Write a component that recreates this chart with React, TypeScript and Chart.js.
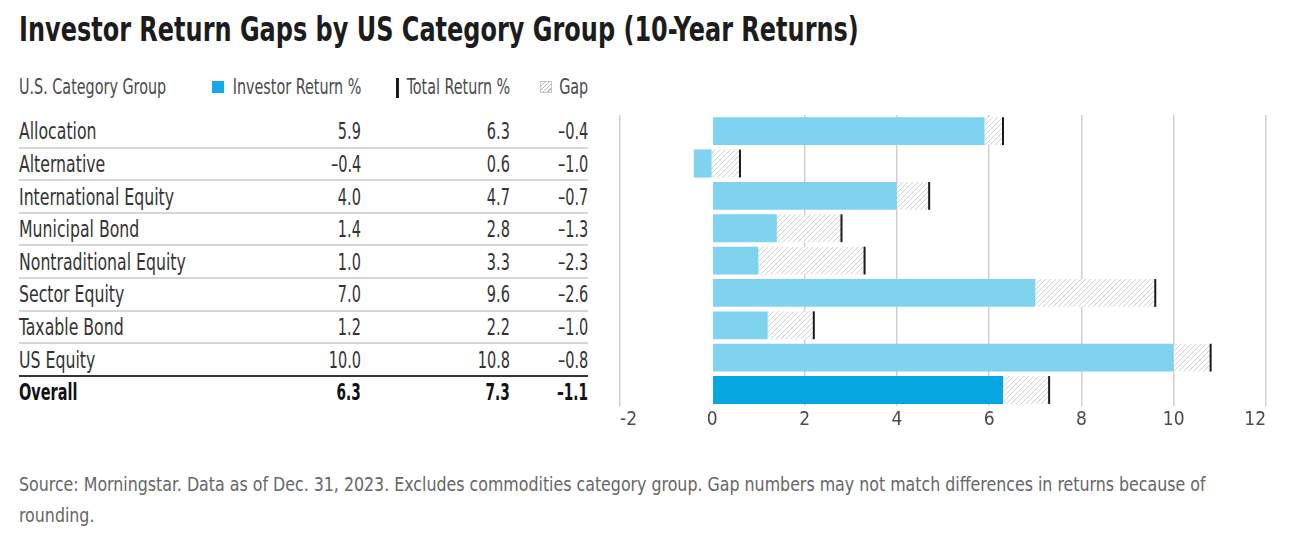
import React, { useEffect, useRef } from 'react';
import { Chart, registerables } from 'chart.js';

Chart.register(...registerables);

const categories = [
  'Allocation',
  'Alternative',
  'International Equity',
  'Municipal Bond',
  'Nontraditional Equity',
  'Sector Equity',
  'Taxable Bond',
  'US Equity',
  'Overall',
];
const investorReturn = [5.9, -0.4, 4.0, 1.4, 1.0, 7.0, 1.2, 10.0, 6.3];
const totalReturn = [6.3, 0.6, 4.7, 2.8, 3.3, 9.6, 2.2, 10.8, 7.3];
const gapValues = [-0.4, -1.0, -0.7, -1.3, -2.3, -2.6, -1.0, -0.8, -1.1];
const xMin = -2;
const xMax = 12;
const xStep = 2;

const FONT = '"Liberation Sans Narrow", "DejaVu Sans Condensed", "Arial Narrow", "Roboto", sans-serif';
const LIGHT_BLUE = '#80d3ef';
const DARK_BLUE = '#05a6e1';

const fmt = (v: number) => (v < 0 ? '\u2013' + Math.abs(v).toFixed(1) : v.toFixed(1));

const ROW_TOP = 115;
const ROW_H = 32.6;

function makeHatch(ctx: CanvasRenderingContext2D): CanvasPattern | string {
  const n = 5;
  const c = document.createElement('canvas');
  c.width = n;
  c.height = n;
  const g = c.getContext('2d');
  if (!g) return '#ddd';
  g.fillStyle = '#fdfdfd';
  g.fillRect(0, 0, n, n);
  g.strokeStyle = '#c6c6c6';
  g.lineWidth = 0.8;
  g.beginPath();
  g.moveTo(0, n);
  g.lineTo(n, 0);
  g.moveTo(-1, 1);
  g.lineTo(1, -1);
  g.moveTo(n - 1, n + 1);
  g.lineTo(n + 1, n - 1);
  g.stroke();
  return ctx.createPattern(c, 'repeat') || '#ddd';
}

const totalMarkerPlugin = {
  id: 'totalMarker',
  afterDatasetsDraw(chart: any) {
    const meta = chart.getDatasetMeta(1);
    const xs = chart.scales.x;
    const ctx = chart.ctx;
    ctx.save();
    ctx.strokeStyle = '#1a1a1a';
    ctx.lineWidth = 2;
    meta.data.forEach((el: any, i: number) => {
      const x = xs.getPixelForValue(totalReturn[i]);
      const h = el.height;
      ctx.beginPath();
      ctx.moveTo(x, el.y - h / 2);
      ctx.lineTo(x, el.y + h / 2);
      ctx.stroke();
    });
    ctx.restore();
  },
};

function BarChart() {
  const ref = useRef<HTMLCanvasElement | null>(null);
  useEffect(() => {
    const canvas = ref.current;
    if (!canvas) return;
    const ctx = canvas.getContext('2d') as CanvasRenderingContext2D;
    const hatch = makeHatch(ctx);
    const chart = new Chart(canvas, {
      type: 'bar',
      data: {
        labels: categories,
        datasets: [
          {
            label: 'Investor Return %',
            data: investorReturn,
            backgroundColor: categories.map((_, i) => (i === categories.length - 1 ? DARK_BLUE : LIGHT_BLUE)),
            borderWidth: 0,
            grouped: false,
            order: 1,
            barPercentage: 0.86,
            categoryPercentage: 1,
          } as any,
          {
            label: 'Gap',
            data: investorReturn.map((v, i) => [v, totalReturn[i]]),
            backgroundColor: hatch as any,
            borderWidth: 0,
            grouped: false,
            order: 2,
            barPercentage: 0.86,
            categoryPercentage: 1,
          } as any,
        ],
      },
      options: {
        indexAxis: 'y',
        animation: false,
        responsive: false,
        maintainAspectRatio: false,
        layout: { padding: { left: 20, right: 34, top: 15, bottom: 7 } },
        plugins: { legend: { display: false }, tooltip: { enabled: false } },
        scales: {
          x: {
            min: xMin,
            max: xMax,
            ticks: {
              stepSize: xStep,
              color: '#4a4a4a',
              padding: 2,
              align: 'inner',
              font: { family: FONT, size: 19 },
            },
            grid: {
              drawTicks: false,
              color: (c: any) => (c.tick && c.tick.value === 0 ? 'rgba(0,0,0,0)' : '#cfcfcf'),
              lineWidth: 1.5,
            },
            border: { display: false },
          },
          y: {
            display: false,
            grid: { display: false },
          },
        },
      } as any,
      plugins: [totalMarkerPlugin],
    });
    return () => chart.destroy();
  }, []);
  return (
    <canvas
      ref={ref}
      width={700}
      height={340}
      style={{ position: 'absolute', left: 600, top: 100, width: 700, height: 340 }}
    />
  );
}

const sx = (k: number, origin: 'left' | 'right') => ({
  display: 'inline-block',
  transform: `scaleX(${k})`,
  transformOrigin: origin === 'left' ? 'left center' : 'right center',
});

export default function App() {
  const rowCenter = (i: number) => ROW_TOP + ROW_H * (i + 0.5);
  return (
    <div
      style={{
        position: 'absolute',
        left: 0,
        top: 0,
        width: 1313,
        height: 540,
        background: '#fff',
        fontFamily: FONT,
        overflow: 'hidden',
      }}
    >
      <div
        style={{
          position: 'absolute',
          left: 19,
          top: 10,
          fontSize: 33,
          fontWeight: 700,
          color: '#1c1c1c',
          whiteSpace: 'nowrap',
          lineHeight: '40px',
          ...sx(0.808, 'left'),
        }}
      >
        Investor Return Gaps by US Category Group (10-Year Returns)
      </div>

      {/* header */}
      <div style={{ position: 'absolute', left: 0, top: 75, width: 600, height: 24, fontSize: 21, color: '#4a4a4a', lineHeight: '24px', whiteSpace: 'nowrap' }}>
        <span style={{ position: 'absolute', left: 19, ...sx(0.76, 'left') }}>U.S. Category Group</span>
        <span style={{ position: 'absolute', left: 212, top: 6, width: 12, height: 12, background: '#15a9e8' }} />
        <span style={{ position: 'absolute', right: 600 - 361, ...sx(0.76, 'right') }}>Investor Return %</span>
        <span style={{ position: 'absolute', left: 396, top: 3, width: 3, height: 20, background: '#1a1a1a' }} />
        <span style={{ position: 'absolute', right: 600 - 510, ...sx(0.76, 'right') }}>Total Return %</span>
        <span
          style={{
            position: 'absolute',
            left: 540,
            top: 6,
            width: 10,
            height: 10,
            border: '1px solid #c4c4c4',
            background: 'repeating-linear-gradient(-45deg, #fff 0px, #fff 2px, #b5b5b5 2px, #b5b5b5 3px)',
          }}
        />
        <span style={{ position: 'absolute', right: 600 - 588, ...sx(0.76, 'right') }}>Gap</span>
      </div>

      {/* rows */}
      {categories.map((cat, i) => {
        const last = i === categories.length - 1;
        const c = rowCenter(i);
        const kLabel = last ? 0.7 : 0.76;
        const kNum = last ? 0.66 : 0.7;
        return (
          <div
            key={cat}
            style={{
              position: 'absolute',
              left: 0,
              top: c - 12,
              width: 600,
              height: 24,
              lineHeight: '24px',
              fontSize: 23,
              color: last ? '#111' : '#333',
              fontWeight: last ? 700 : 400,
              whiteSpace: 'nowrap',
            }}
          >
            <span style={{ position: 'absolute', left: 19, ...sx(kLabel, 'left') }}>{cat}</span>
            <span style={{ position: 'absolute', right: 600 - 361, ...sx(kNum, 'right') }}>{fmt(investorReturn[i])}</span>
            <span style={{ position: 'absolute', right: 600 - 510, ...sx(kNum, 'right') }}>{fmt(totalReturn[i])}</span>
            <span style={{ position: 'absolute', right: 600 - 588, ...sx(kNum, 'right') }}>{fmt(gapValues[i])}</span>
          </div>
        );
      })}
      {categories.slice(0, -1).map((cat, i) => {
        const beforeLast = i === categories.length - 2;
        return (
          <div
            key={'sep' + cat}
            style={{
              position: 'absolute',
              left: 19,
              width: 569,
              top: ROW_TOP + ROW_H * (i + 1) - 1,
              height: 2,
              background: beforeLast ? '#333' : '#d6d6d6',
            }}
          />
        );
      })}

      <BarChart />

      <div
        style={{
          position: 'absolute',
          left: 19,
          top: 469,
          width: 1400,
          fontSize: 20,
          lineHeight: '31px',
          color: '#666',
          whiteSpace: 'nowrap',
          ...sx(0.88, 'left'),
        }}
      >
        Source: Morningstar. Data as of Dec. 31, 2023. Excludes commodities category group. Gap numbers may not match differences in returns because of
        <br />
        rounding.
      </div>
    </div>
  );
}
